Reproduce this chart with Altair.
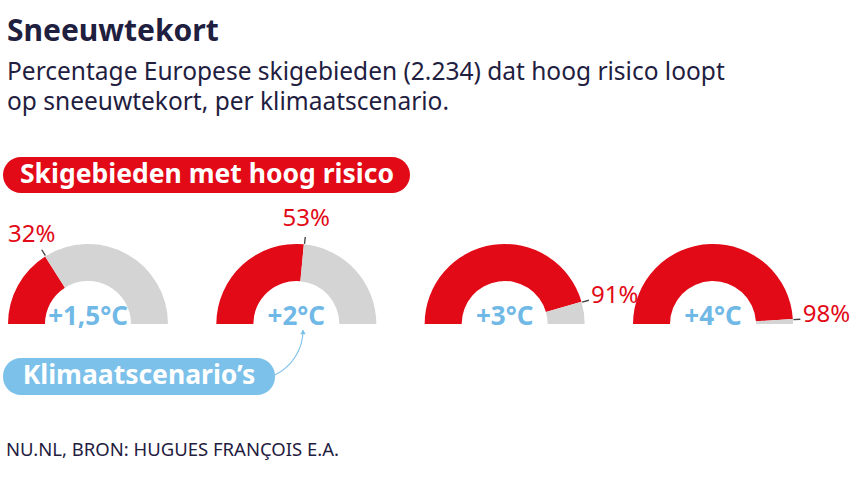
import altair as alt
import pandas as pd

# ---- data ----
scenarios = ["+1,5°C", "+2°C", "+3°C", "+4°C"]
pct_high_risk = [32, 53, 91, 98]
pct_labels = ["32%", "53%", "91%", "98%"]

title_text = "Sneeuwtekort"
subtitle_lines = [
    "Percentage Europese skigebieden (2.234) dat hoog risico loopt",
    "op sneeuwtekort, per klimaatscenario.",
]
red_pill_text = "Skigebieden met hoog risico"
blue_pill_text = "Klimaatscenario’s"
source_text = "NU.NL, BRON: HUGUES FRANÇOIS E.A."

# ---- styles ----
RED = "#e20a17"
GREY = "#d4d4d4"
BLUE_PILL = "#7cc1ea"
BLUE_TEXT = "#70b8e5"
DARK = "#1f203f"
FONT = "Noto Sans"
CY = 324
R_OUT, R_IN = 80, 43

# one row per gauge segment (red = high risk share, grey = remainder)
seg_rows = []
for s, p in zip(scenarios, pct_high_risk):
    seg_rows.append({"scenario": s, "seg": "risk", "from": 0, "to": p})
    seg_rows.append({"scenario": s, "seg": "rest", "from": p, "to": 100})
seg_df = pd.DataFrame(seg_rows)
df = pd.DataFrame({"scenario": scenarios, "pct": pct_high_risk, "label": pct_labels})

xscale = alt.Scale(domain=scenarios, range=[88, 713], padding=0)
xenc = alt.X("scenario:N", sort=scenarios, scale=xscale, axis=None)

arcs = alt.Chart(seg_df).transform_calculate(
    a0="1.5*PI + datum.from/100*PI",
    a1="1.5*PI + datum.to/100*PI",
).mark_arc(radius=R_OUT, radius2=R_IN).encode(
    x=xenc, y=alt.value(CY),
    theta=alt.Theta("a0:Q", scale=None, stack=None),
    theta2="a1:Q",
    color=alt.Color("seg:N", scale=alt.Scale(domain=["risk", "rest"], range=[RED, GREY]), legend=None),
)

base = alt.Chart(df).transform_calculate(
    t_mid="1.5*PI + datum.pct/100*PI",
    t_tick="1.5*PI + datum.pct/100*PI + 0.016",
)
ticks = base.mark_arc(radius=87.5, radius2=80.5, color="#444444").encode(
    x=xenc, y=alt.value(CY),
    theta=alt.Theta("t_mid:Q", scale=None, stack=None),
    theta2="t_tick:Q",
)
lab_left = base.transform_filter("datum.pct < 75").mark_text(
    font=FONT, fontSize=24, color=RED, align="center", baseline="middle", radius=105
).encode(
    x=xenc, y=alt.value(CY),
    theta=alt.Theta("t_mid:Q", scale=None, stack=None),
    text="label:N",
)
lab_right = base.transform_filter("datum.pct >= 75").mark_text(
    font=FONT, fontSize=24, color=RED, align="left", baseline="middle", radius=90
).encode(
    x=xenc, y=alt.value(CY - 3),
    theta=alt.Theta("t_mid:Q", scale=None, stack=None),
    text="label:N",
)
scen_text = base.mark_text(
    font=FONT, fontSize=26, fontWeight="bold", color=BLUE_TEXT, align="center", baseline="alphabetic"
).encode(x=xenc, y=alt.value(CY + 1), text="scenario:N")

# ---- texts & annotations ----
title = alt.Chart(pd.DataFrame({"t": [title_text]})).mark_text(
    font=FONT, fontSize=30, fontWeight="bold", color=DARK, align="left", baseline="alphabetic"
).encode(x=alt.value(7), y=alt.value(41), text="t:N")

sub_df = pd.DataFrame({"t": subtitle_lines, "i": [0, 1]})
subtitle = alt.Chart(sub_df).mark_text(
    font=FONT, fontSize=24.5, color=DARK, align="left", baseline="alphabetic"
).encode(
    x=alt.value(7),
    y=alt.Y("i:Q", scale=alt.Scale(domain=[0, 1], range=[80, 110]), axis=None),
    text="t:N",
)

src = alt.Chart(pd.DataFrame({"t": [source_text]})).mark_text(
    font=FONT, fontSize=18.5, color=DARK, align="left", baseline="alphabetic"
).encode(x=alt.value(6), y=alt.value(456), text="t:N")

red_pill = alt.Chart(pd.DataFrame({"t": [red_pill_text]})).mark_rect(color=RED, cornerRadius=18).encode(
    x=alt.value(3), x2=alt.value(410), y=alt.value(157), y2=alt.value(193)
)
red_pill_t = alt.Chart(pd.DataFrame({"t": [red_pill_text]})).mark_text(
    font=FONT, fontSize=26.5, fontWeight="bold", color="white", align="center", baseline="middle"
).encode(x=alt.value(207), y=alt.value(175), text="t:N")

blue_pill = alt.Chart(pd.DataFrame({"t": [blue_pill_text]})).mark_rect(color=BLUE_PILL, cornerRadius=18).encode(
    x=alt.value(3), x2=alt.value(275), y=alt.value(358), y2=alt.value(395)
)
blue_pill_t = alt.Chart(pd.DataFrame({"t": [blue_pill_text]})).mark_text(
    font=FONT, fontSize=26.5, fontWeight="bold", color="white", align="center", baseline="middle"
).encode(x=alt.value(139), y=alt.value(376), text="t:N")

arrow_curve = alt.Chart(pd.DataFrame({"a": [1.571], "b": [2.69]})).mark_arc(
    radius=50.6, radius2=49.5, color=BLUE_PILL
).encode(
    x=alt.value(253), y=alt.value(330),
    theta=alt.Theta("a:Q", scale=None, stack=None), theta2="b:Q",
)
arrow_head = alt.Chart(pd.DataFrame({"a": [1]})).mark_point(
    shape="triangle-up", filled=True, size=30, color=BLUE_PILL, opacity=1
).encode(x=alt.value(303), y=alt.value(332))

chart = alt.layer(
    title, subtitle, src, red_pill, red_pill_t,
    arcs, ticks, lab_left, lab_right, scen_text,
    blue_pill, blue_pill_t, arrow_curve, arrow_head,
).properties(
    width=854, height=480, padding=0, autosize=alt.AutoSizeParams(type="none"), background="white"
).configure_view(stroke=None)

chart.save("out.html", embed_options={"renderer": "svg", "actions": False})
